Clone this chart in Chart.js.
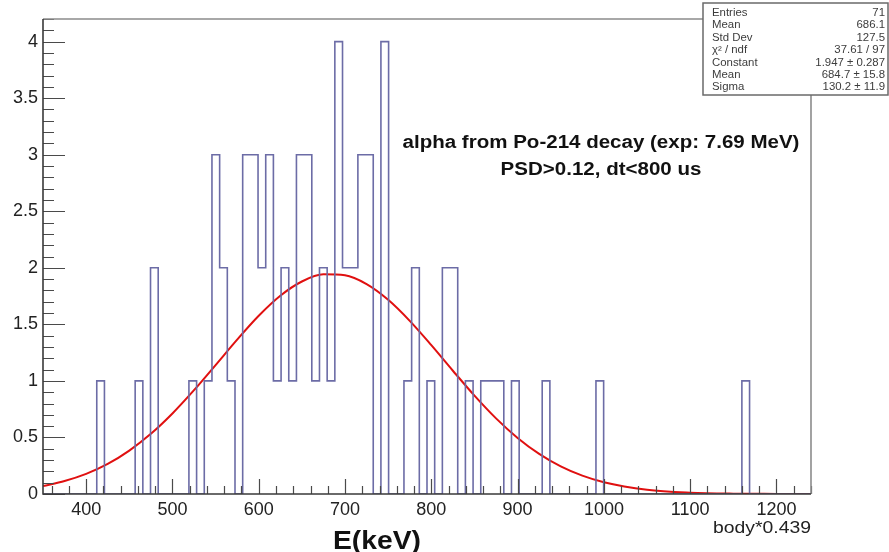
<!DOCTYPE html>
<html>
<head>
<meta charset="utf-8">
<script src="https://cdn.jsdelivr.net/npm/chart.js@4.4.1/dist/chart.umd.min.js"></script>
<style>
  html, body { margin: 0; padding: 0; background: #ffffff; }
  #wrap { position: relative; width: 889px; height: 552px; }
</style>
</head>
<body>
<div id="wrap"><canvas id="c"></canvas></div>
<script>
// histogram: 100 bins from 350 to 1240 keV
const X_MIN = 350;
const X_MAX = 1240;
const Y_MAX = 4.2;
const counts = [
  0, 0, 0, 0, 0, 0, 0, 1, 0, 0,
  0, 0, 1, 0, 2, 0, 0, 0, 0, 1,
  0, 1, 3, 2, 1, 0, 3, 3, 2, 3,
  1, 2, 1, 3, 3, 1, 2, 1, 4, 2,
  2, 3, 3, 0, 4, 0, 0, 1, 2, 0,
  1, 0, 2, 2, 0, 1, 0, 1, 1, 1,
  0, 1, 0, 0, 0, 1, 0, 0, 0, 0,
  0, 0, 1, 0, 0, 0, 0, 0, 0, 0,
  0, 0, 0, 0, 0, 0, 0, 0, 0, 0,
  0, 1, 0, 0, 0, 0, 0, 0, 0, 0
];

// gaussian fit curve
const fitX = [350, 375, 400, 425, 450, 475, 500, 525, 550, 575, 600, 625, 650, 675, 700, 725,
              750, 775, 800, 825, 850, 875, 900, 925, 950, 975, 1000, 1050, 1100, 1150, 1200, 1240];
const fitY = [0.07, 0.115, 0.178, 0.266, 0.384, 0.532, 0.712, 0.918, 1.14, 1.365, 1.576, 1.753, 1.879, 1.942, 1.934, 1.856,
              1.717, 1.531, 1.316, 1.09, 0.87, 0.669, 0.496, 0.355, 0.244, 0.162, 0.104, 0.038, 0.012, 0.003, 0.001, 0.0];

const xTicks = [400, 500, 600, 700, 800, 900, 1000, 1100, 1200];
const yTicks = [0, 0.5, 1, 1.5, 2, 2.5, 3, 3.5, 4];

const statLabels = ['Entries', 'Mean', 'Std Dev', 'χ² / ndf', 'Constant', 'Mean', 'Sigma'];
const statValues = ['71', '686.1', '127.5', '37.61 / 97', '1.947 ± 0.287', '684.7 ± 15.8', '130.2 ± 11.9'];

const titleLines = ['alpha from Po-214 decay (exp: 7.69 MeV)', 'PSD>0.12, dt<800 us'];

const FONT = '"Liberation Sans", Arial, Helvetica, sans-serif';
const SX = 1.14; // the picture is a bit stretched sideways
const HIST_COLOR = '#6c6ca6';
const FIT_COLOR = '#e01010';

const binW = (X_MAX - X_MIN) / counts.length;
const histPoints = counts.map((c, i) => ({ x: X_MIN + i * binW, y: c }));
histPoints.push({ x: X_MAX, y: counts[counts.length - 1] });

function drawText(ctx, text, x, y, font, align, color, fitWidth) {
  ctx.save();
  ctx.font = font;
  ctx.fillStyle = color;
  ctx.textBaseline = 'alphabetic';
  ctx.textAlign = 'left';
  const raw = ctx.measureText(text).width;
  const sx = fitWidth ? fitWidth / raw : SX;
  const w = raw * sx;
  const x0 = align === 'center' ? x - w / 2 : align === 'right' ? x - w : x;
  ctx.translate(x0, y);
  ctx.scale(sx, 1);
  ctx.fillText(text, 0, 0);
  ctx.restore();
}

const rootFrame = {
  id: 'rootFrame',
  beforeDraw(chart) {
    const ctx = chart.ctx;
    ctx.save();
    ctx.fillStyle = '#ffffff';
    ctx.fillRect(0, 0, chart.width, chart.height);
    ctx.restore();
  },
  afterDatasetsDraw(chart) {
    const ctx = chart.ctx, a = chart.chartArea;
    const xs = chart.scales.x, ys = chart.scales.y;
    ctx.save();
    // ticks inside the frame
    ctx.strokeStyle = '#4a4a4a';
    ctx.lineWidth = 1.2;
    ctx.beginPath();
    for (let v = 360; v <= X_MAX; v += 20) {
      const px = Math.round(xs.getPixelForValue(v)) + 0.5;
      const len = v % 100 === 0 ? 15 : 8;
      ctx.moveTo(px, a.bottom);
      ctx.lineTo(px, a.bottom - len);
    }
    for (let k = 0; k <= 42; k++) {
      const py = Math.round(ys.getPixelForValue(k / 10)) + 0.5;
      const len = k % 5 === 0 ? 22 : 11;
      ctx.moveTo(a.left, py);
      ctx.lineTo(a.left + len, py);
    }
    ctx.stroke();
    // frame
    ctx.lineWidth = 1.6;
    ctx.strokeStyle = '#8c8c8c';
    ctx.beginPath();
    ctx.moveTo(a.left, a.top);
    ctx.lineTo(a.right, a.top);
    ctx.lineTo(a.right, a.bottom);
    ctx.stroke();
    ctx.strokeStyle = '#3a3a3a';
    ctx.beginPath();
    ctx.moveTo(a.left, a.top);
    ctx.lineTo(a.left, a.bottom);
    ctx.lineTo(a.right, a.bottom);
    ctx.stroke();
    ctx.restore();
  },
  afterDraw(chart) {
    const ctx = chart.ctx, a = chart.chartArea;
    // stats box
    const bx = 703, by = 3, bw = 185, bh = 92;
    ctx.save();
    ctx.fillStyle = '#ffffff';
    ctx.fillRect(bx, by, bw, bh);
    ctx.strokeStyle = '#6a6a6a';
    ctx.lineWidth = 1.5;
    ctx.strokeRect(bx, by, bw, bh);
    ctx.restore();
    statLabels.forEach((lab, i) => {
      const y = 16 + i * 12.4;
      drawText(ctx, lab, 712, y, '10px ' + FONT, 'left', '#3c3c3c');
      drawText(ctx, statValues[i], 885, y, '10px ' + FONT, 'right', '#3c3c3c');
    });
    // titles
    drawText(ctx, titleLines[0], 601, 148, 'bold 18px ' + FONT, 'center', '#111111');
    drawText(ctx, titleLines[1], 601, 175, 'bold 18px ' + FONT, 'center', '#111111');
    // axis title and note
    drawText(ctx, 'E(keV)', 333, 549, 'bold 25px ' + FONT, 'left', '#111111', 88);
    drawText(ctx, 'body*0.439', a.right, 533, '17px ' + FONT, 'right', '#222222');
  }
};

new Chart(document.getElementById('c'), {
  type: 'line',
  data: {
    datasets: [
      {
        label: 'hist',
        data: histPoints,
        stepped: true,
        borderColor: HIST_COLOR,
        borderWidth: 1.6,
        pointRadius: 0,
        fill: false
      },
      {
        label: 'fit',
        data: fitX.map((x, i) => ({ x: x, y: fitY[i] })),
        borderColor: FIT_COLOR,
        borderWidth: 2,
        pointRadius: 0,
        cubicInterpolationMode: 'monotone',
        fill: false
      }
    ]
  },
  options: {
    responsive: true,
    maintainAspectRatio: false,
    animation: false,
    events: [],
    layout: { padding: { top: 19, right: 78, left: 0, bottom: 0 } },
    plugins: { legend: { display: false }, tooltip: { enabled: false } },
    scales: {
      x: {
        type: 'linear',
        min: X_MIN, max: X_MAX,
        afterBuildTicks: s => { s.ticks = xTicks.map(v => ({ value: v })); },
        afterFit: s => { s.height = 58; },
        grid: { display: false, drawTicks: false },
        border: { display: false },
        ticks: { color: '#222222', font: { family: FONT, size: 18 }, padding: 5, maxRotation: 0, autoSkip: false,
                 callback: v => String(v) }
      },
      y: {
        min: 0, max: Y_MAX,
        afterBuildTicks: s => { s.ticks = yTicks.map(v => ({ value: v })); },
        afterFit: s => { s.width = 43; },
        grid: { display: false, drawTicks: false },
        border: { display: false },
        ticks: { color: '#222222', font: { family: FONT, size: 18 }, padding: 5, autoSkip: false,
                 callback: v => String(v) }
      }
    }
  },
  plugins: [rootFrame]
});
</script>
</body>
</html>
